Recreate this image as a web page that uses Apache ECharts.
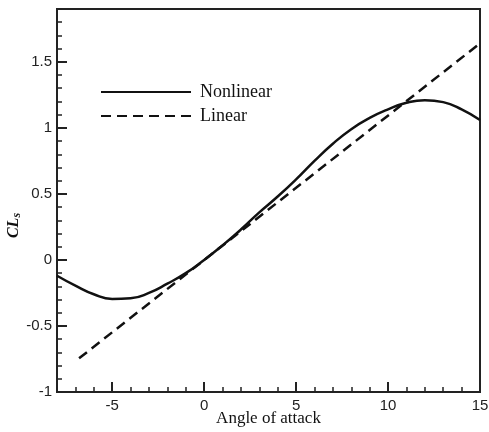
<!DOCTYPE html>
<html>
<head>
<meta charset="utf-8">
<script src="https://cdn.jsdelivr.net/npm/echarts@6/dist/echarts.min.js"></script>
<style>html,body{margin:0;padding:0;background:#fff;}#c{width:489px;height:432px;}</style>
</head>
<body>
<div id="c"></div>
<script>
// Data
const nonlinearX = [-8, -7, -6, -5, -4, -3, -2, -1, 0, 1, 2, 3, 4, 5, 6, 7, 8, 9, 10, 11, 12, 13, 14, 15];
const nonlinearY = [-0.12, -0.195, -0.26, -0.295, -0.29, -0.25, -0.18, -0.10, 0.0, 0.11, 0.23, 0.36, 0.48, 0.61, 0.75, 0.88, 0.99, 1.075, 1.14, 1.19, 1.21, 1.195, 1.14, 1.06];
const linearX = [-6.8, 15];
const linearY = [-0.745, 1.64];
const xTickValues = [-8, -7, -6, -5, -4, -3, -2, -1, 0, 1, 2, 3, 4, 5, 6, 7, 8, 9, 10, 11, 12, 13, 14, 15];
const xMajorStep = 5;
const seriesNames = ['Nonlinear', 'Linear'];

const chart = echarts.init(document.getElementById('c'), null, {renderer: 'canvas'});
const lineColor = '#111';
const labelStyle = {color: '#222', fontFamily: 'Liberation Sans', fontSize: 15};
const axisLineStyle = {show: true, onZero: false, lineStyle: {color: '#222', width: 2}};
const isMajorX = (idx) => xTickValues[idx] % xMajorStep === 0;

const option = {
  backgroundColor: '#fff',
  animation: false,
  grid: {left: 57, right: 9, top: 9, bottom: 40, show: true, borderColor: '#222', borderWidth: 2,
         containLabel: false, outerBoundsMode: 'none'},
  legend: {
    orient: 'vertical', left: 95, top: 78, itemWidth: 90, itemHeight: 14, itemGap: 6,
    data: seriesNames,
    itemStyle: {opacity: 0},
    textStyle: {fontFamily: 'Liberation Serif', fontSize: 18, color: '#111', padding: [0, 0, 0, 4]}
  },
  xAxis: [
    {
      type: 'value', min: -8, max: 15, interval: 1, position: 'bottom',
      axisLine: axisLineStyle,
      axisTick: {show: true, inside: true, length: 5, lineStyle: {color: '#222', width: 1.5}},
      axisLabel: {show: false}, splitLine: {show: false}
    },
    {
      type: 'category', data: xTickValues.map(String), boundaryGap: false, position: 'bottom',
      axisLine: axisLineStyle,
      axisTick: {show: true, inside: true, length: 10, interval: (idx) => isMajorX(idx), lineStyle: {color: '#222', width: 2}},
      axisLabel: Object.assign({show: true, margin: 6, interval: (idx) => isMajorX(idx)}, labelStyle),
      splitLine: {show: false},
      name: 'Angle of attack', nameLocation: 'middle', nameGap: 18, nameMoveOverlap: false,
      nameTextStyle: {fontFamily: 'Liberation Serif', fontSize: 17, color: '#111'}
    }
  ],
  yAxis: [
    {
      type: 'value', min: -1, max: 1.9, interval: 0.5, position: 'left',
      axisLine: axisLineStyle,
      axisTick: {show: true, inside: true, length: 10, lineStyle: {color: '#222', width: 2}},
      axisLabel: Object.assign({show: true, margin: 5, showMaxLabel: false}, labelStyle),
      splitLine: {show: false},
      name: '{i|CL}{s|s}', nameLocation: 'middle', nameGap: 34, nameRotate: 90, nameMoveOverlap: false,
      nameTextStyle: {
        padding: [0, 50, 0, 0],
        rich: {
          i: {fontFamily: 'Liberation Serif', fontStyle: 'italic', fontWeight: 'bold', fontSize: 16, color: '#111'},
          s: {fontFamily: 'Liberation Serif', fontStyle: 'italic', fontWeight: 'bold', fontSize: 12, color: '#111', padding: [7, 0, 0, 0]}
        }
      }
    },
    {
      type: 'value', min: -1, max: 1.9, interval: 0.1, position: 'left',
      axisLine: axisLineStyle,
      axisTick: {show: true, inside: true, length: 5, lineStyle: {color: '#222', width: 1.5}},
      axisLabel: {show: false}, splitLine: {show: false}
    }
  ],
  series: [
    {
      name: seriesNames[0], type: 'line', smooth: 0.5, showSymbol: false, symbol: 'none',
      xAxisIndex: 0, yAxisIndex: 0,
      data: nonlinearX.map((x, i) => [x, nonlinearY[i]]),
      lineStyle: {color: lineColor, width: 2.5}, itemStyle: {color: lineColor}
    },
    {
      name: seriesNames[1], type: 'line', showSymbol: false, symbol: 'none',
      xAxisIndex: 0, yAxisIndex: 0,
      data: linearX.map((x, i) => [x, linearY[i]]),
      lineStyle: {color: lineColor, width: 2.5, type: [10, 6]}, itemStyle: {color: lineColor}
    }
  ]
};
chart.setOption(option);
</script>
</body>
</html>
